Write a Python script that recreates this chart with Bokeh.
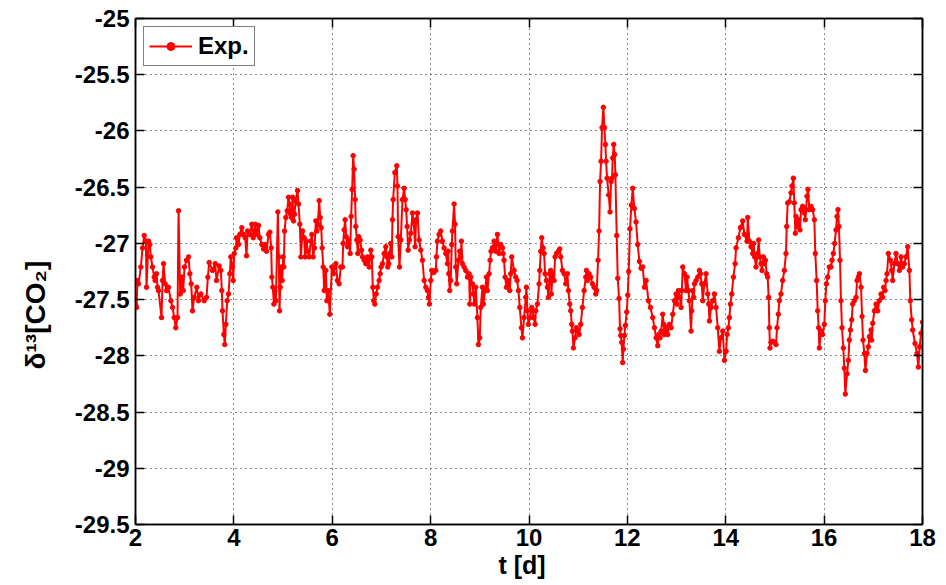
from bokeh.plotting import figure
from bokeh.models import LinearAxis, FixedTicker, Legend, LegendItem, Range1d, Title
from bokeh.embed import file_html
from bokeh.resources import INLINE

# ---- data (time in days, delta13C of CO2) ----
t_days = [
    2.005, 2.021, 2.041, 2.062, 2.109, 2.143, 2.177, 2.211, 2.224, 2.265, 2.292, 2.312, 2.346, 2.38, 2.40,
    2.428, 2.448, 2.468, 2.529, 2.55, 2.57, 2.604, 2.631, 2.671, 2.719, 2.753, 2.787, 2.82, 2.854, 2.875,
    2.909, 2.942, 2.97, 2.997, 3.037, 3.078, 3.105, 3.132, 3.159, 3.193, 3.247, 3.281, 3.329, 3.396, 3.444,
    3.471, 3.498, 3.566, 3.62, 3.647, 3.701, 3.735, 3.755, 3.769, 3.796, 3.816, 3.837, 3.864, 3.891, 3.918,
    3.938, 3.972,
    3.986, 4.007, 4.041, 4.054, 4.095, 4.122, 4.162, 4.196, 4.23, 4.257, 4.278, 4.325, 4.366, 4.393, 4.433,
    4.461, 4.501, 4.528, 4.569, 4.603, 4.637, 4.664, 4.704, 4.732, 4.759, 4.772, 4.793, 4.813, 4.833, 4.854,
    4.894, 4.914, 4.928, 4.942, 4.962, 4.982, 5.003, 5.016, 5.03, 5.057, 5.084, 5.111, 5.131, 5.152, 5.172,
    5.192, 5.213, 5.233, 5.253, 5.294, 5.314, 5.341, 5.362, 5.396, 5.429, 5.45, 5.477, 5.504, 5.531, 5.565,
    5.585, 5.612, 5.639, 5.667, 5.687, 5.707, 5.734, 5.755, 5.775, 5.795, 5.816, 5.836, 5.87, 5.89, 5.917,
    5.951, 5.992,
    6.025, 6.052, 6.073, 6.106, 6.14, 6.174, 6.208, 6.222, 6.242, 6.262, 6.283, 6.31, 6.337, 6.364, 6.384,
    6.404, 6.425, 6.445, 6.465, 6.479, 6.499, 6.52, 6.54, 6.567, 6.594, 6.615, 6.648, 6.682, 6.716, 6.75,
    6.784, 6.804, 6.825, 6.845, 6.865, 6.892, 6.919, 6.953, 6.974, 6.994, 7.021, 7.055, 7.089, 7.109, 7.129,
    7.15, 7.17, 7.19, 7.211, 7.224, 7.238, 7.272, 7.312, 7.326, 7.339, 7.367, 7.394, 7.428, 7.461, 7.482,
    7.502, 7.522, 7.543, 7.57, 7.597, 7.631, 7.658, 7.685, 7.705, 7.732, 7.766, 7.8, 7.834, 7.868, 7.902,
    7.936, 7.956, 7.976, 8.003,
    8.023, 8.064, 8.105, 8.118, 8.138, 8.172, 8.206, 8.24, 8.274, 8.308, 8.342, 8.355, 8.369, 8.389, 8.409,
    8.43, 8.443, 8.477, 8.497, 8.511, 8.531, 8.565, 8.592, 8.613, 8.626, 8.647, 8.68, 8.714, 8.748, 8.782,
    8.796, 8.816, 8.85, 8.87, 8.89, 8.918, 8.951, 8.972, 8.999, 9.019, 9.053, 9.073, 9.107, 9.134, 9.155,
    9.189, 9.209, 9.229, 9.256, 9.29, 9.324, 9.358, 9.392, 9.426, 9.46, 9.473, 9.493, 9.514, 9.541, 9.581,
    9.609, 9.629, 9.649, 9.697, 9.731, 9.758, 9.785, 9.812, 9.846, 9.866, 9.90, 9.934, 9.947, 9.968, 9.988,
    10.022, 10.056,
    10.07, 10.097, 10.124, 10.138, 10.171, 10.205, 10.219, 10.239, 10.259, 10.287, 10.307, 10.327, 10.354,
    10.375, 10.395, 10.422, 10.442, 10.456, 10.476, 10.51, 10.53, 10.558, 10.598, 10.625, 10.646, 10.68,
    10.713, 10.747, 10.781, 10.801, 10.829, 10.849, 10.869, 10.883, 10.903, 10.937, 10.964, 10.984, 11.018,
    11.052, 11.086, 11.12, 11.154, 11.167, 11.188, 11.222, 11.255, 11.289, 11.323, 11.357, 11.377, 11.404,
    11.425,
    11.445, 11.465, 11.485, 11.512, 11.533, 11.553, 11.567, 11.587, 11.621, 11.648, 11.668, 11.688, 11.702,
    11.722, 11.743, 11.756, 11.783, 11.804, 11.831, 11.851, 11.865, 11.885, 11.905, 11.919, 11.939, 11.959,
    11.987, 12.007, 12.027, 12.054, 12.081, 12.109, 12.142, 12.176, 12.21, 12.244, 12.278,
    12.313, 12.347, 12.381, 12.428, 12.469, 12.516, 12.55, 12.584, 12.618, 12.638, 12.665, 12.686, 12.719,
    12.74, 12.753, 12.787, 12.821, 12.855, 12.889, 12.923, 12.957, 12.99, 13.011, 13.038, 13.065, 13.092,
    13.106, 13.126, 13.16, 13.194, 13.214, 13.241, 13.261, 13.295, 13.309, 13.329, 13.349, 13.363, 13.397,
    13.431, 13.465, 13.485, 13.512, 13.532, 13.566, 13.60, 13.634, 13.654, 13.668, 13.702, 13.736, 13.77,
    13.803, 13.837, 13.871, 13.905, 13.939, 13.973, 14.007, 14.027, 14.054, 14.074, 14.095, 14.122, 14.156,
    14.19, 14.21, 14.257, 14.298, 14.345, 14.379, 14.433, 14.447, 14.481,
    14.514, 14.548, 14.568, 14.588, 14.615, 14.649, 14.669, 14.69, 14.717, 14.737, 14.764, 14.785, 14.805,
    14.832, 14.852, 14.873, 14.886, 14.90, 14.92, 14.954, 14.988, 15.022, 15.042, 15.069, 15.09, 15.123,
    15.157, 15.191, 15.225, 15.239, 15.259, 15.293, 15.327, 15.347, 15.374, 15.394, 15.415, 15.428, 15.449,
    15.482, 15.51, 15.53, 15.564, 15.598, 15.618, 15.632, 15.652, 15.672, 15.699, 15.733, 15.767, 15.801,
    15.821, 15.848, 15.869, 15.889, 15.903, 15.936, 15.97, 16.004, 16.024, 16.045, 16.072, 16.106, 16.14,
    16.16, 16.187, 16.214, 16.241, 16.262, 16.282, 16.302, 16.323, 16.343, 16.363, 16.39, 16.411, 16.431,
    16.466, 16.493, 16.513, 16.534, 16.561, 16.581, 16.615, 16.649, 16.669, 16.696, 16.717, 16.751, 16.771,
    16.791, 16.818, 16.839, 16.872, 16.90, 16.92, 16.954, 16.967, 16.988, 17.022, 17.055, 17.089, 17.123,
    17.157, 17.191, 17.211, 17.238, 17.259, 17.279, 17.306, 17.347, 17.374, 17.394, 17.428, 17.462, 17.496,
    17.53, 17.564, 17.597, 17.631, 17.665, 17.699, 17.733, 17.753, 17.78, 17.801, 17.848, 17.889, 17.916,
    17.943, 17.97, 18.0,
]

d13c = [
    -27.55, -27.57, -27.33, -27.36, -27.21, -27.04, -26.93, -26.98, -27.39, -26.98, -27.01, -27.12, -27.21, -27.30, -27.33,
    -27.27, -27.39, -27.42, -27.66, -27.33, -27.18, -27.36, -27.42, -27.39, -27.51, -27.57, -27.66, -27.75, -27.66, -26.71,
    -27.45, -27.30, -27.42, -27.21, -27.15, -27.12, -27.27, -27.36, -27.60, -27.48, -27.39, -27.51, -27.45, -27.51, -27.48,
    -27.30, -27.17, -27.24, -27.18, -27.33, -27.20, -27.24, -27.42, -27.60, -27.81, -27.90, -27.72, -27.51, -27.45, -27.27,
    -27.12, -27.21,
    -27.33, -27.09, -27.04, -26.95, -27.01, -26.92, -26.86, -26.92, -26.95, -27.11, -26.89, -26.92, -26.83, -26.95, -26.83,
    -26.92, -26.84, -26.95, -27.01, -27.05, -27.01, -27.07, -26.92, -26.90, -27.04, -27.30, -27.39, -27.54, -27.42, -27.51,
    -26.72, -27.12, -27.60, -27.39, -27.21, -27.33, -27.12, -27.21, -26.89, -26.77, -26.71, -26.59, -26.65, -26.74, -26.77,
    -26.59, -26.80, -26.74, -26.62, -26.53, -26.65, -26.83, -27.12, -26.89, -26.95, -27.12, -26.98, -27.07, -27.12, -26.98,
    -26.92, -27.12, -27.04, -26.80, -26.89, -26.83, -26.62, -26.77, -26.86, -27.04, -27.21, -27.42, -27.24, -27.51, -27.42,
    -27.63, -27.21,
    -27.27, -27.21, -27.18, -27.33, -27.36, -27.21, -27.21, -27.00, -26.88, -26.79, -26.94, -27.03, -26.97, -27.09, -26.76,
    -26.52, -26.22, -26.34, -26.61, -26.85, -26.97, -27.09, -26.94, -26.97, -27.06, -27.12, -27.15, -27.18, -27.12, -27.21,
    -27.06, -27.12, -27.39, -27.51, -27.54, -27.45, -27.39, -27.33, -27.27, -27.21, -27.18, -27.09, -27.03, -27.12, -27.21,
    -27.18, -27.09, -27.00, -27.12, -26.79, -26.61, -26.37, -26.31, -26.49, -26.94, -27.21, -26.97, -26.61, -26.51, -26.61,
    -26.70, -26.85, -27.06, -26.97, -26.91, -26.73, -26.82, -27.03, -26.79, -26.73, -26.97, -27.06, -27.15, -27.33, -27.39,
    -27.42, -27.48, -27.54, -27.33,
    -27.24, -27.26, -27.24, -27.12, -26.98, -26.92, -26.89, -26.98, -27.04, -27.09, -27.18, -27.07, -27.27, -27.42, -27.33,
    -27.01, -26.89, -26.65, -26.83, -27.21, -27.36, -27.15, -27.07, -27.12, -26.98, -27.18, -27.21, -27.24, -27.30, -27.27,
    -27.54, -27.30, -27.36, -27.45, -27.54, -27.39, -27.66, -27.90, -27.84, -27.57, -27.39, -27.54, -27.42, -27.30, -27.42,
    -27.27, -27.15, -27.07, -27.04, -26.98, -27.07, -26.92, -27.09, -27.01, -27.04, -27.09, -27.15, -27.30, -27.39, -27.33,
    -27.42, -27.27, -27.12, -27.24, -27.30, -27.33, -27.42, -27.57, -27.75, -27.84, -27.66, -27.48, -27.39, -27.60, -27.72,
    -27.66, -27.57,
    -27.60, -27.66, -27.72, -27.60, -27.54, -27.36, -27.24, -27.07, -26.95, -27.04, -27.09, -27.27, -27.33,
    -27.39, -27.48, -27.27, -27.24, -27.45, -27.27, -27.33, -27.12, -27.09, -27.07, -27.05, -27.12, -27.24,
    -27.27, -27.36, -27.27, -27.42, -27.54, -27.60, -27.72, -27.78, -27.93, -27.84, -27.75, -27.78, -27.81,
    -27.72, -27.57, -27.42, -27.30, -27.24, -27.33, -27.27, -27.30, -27.36, -27.39, -27.45, -27.42, -27.15,
    -26.89,
    -26.45, -26.27, -25.97, -25.79, -25.97, -26.12, -26.27, -26.42, -26.57, -26.72, -26.45, -26.42, -26.24,
    -26.12, -26.21, -26.39, -26.93, -27.31, -27.49, -27.76, -27.82, -27.88, -28.06, -27.94, -27.82, -27.73,
    -27.61, -27.46, -27.25, -26.87, -26.66, -26.51, -26.69, -26.81, -27.01, -27.16, -27.22,
    -27.21, -27.39, -27.33, -27.51, -27.57, -27.66, -27.75, -27.84, -27.91, -27.81, -27.84, -27.78, -27.63,
    -27.72, -27.81, -27.75, -27.81, -27.72, -27.75, -27.63, -27.51, -27.45, -27.54, -27.42, -27.48, -27.57,
    -27.42, -27.21, -27.27, -27.42, -27.30, -27.42, -27.51, -27.78, -27.60, -27.42, -27.48, -27.36, -27.33,
    -27.30, -27.24, -27.27, -27.36, -27.51, -27.36, -27.27, -27.45, -27.54, -27.69, -27.57, -27.51, -27.45,
    -27.57, -27.75, -27.96, -27.84, -27.78, -28.04, -27.96, -27.81, -27.75, -27.66, -27.54, -27.45, -27.30,
    -27.18, -27.04, -26.95, -26.86, -26.80, -26.92, -26.98, -26.77, -26.98,
    -27.03, -27.09, -27.00, -27.12, -27.21, -27.09, -26.97, -27.12, -27.18, -27.24, -27.12, -27.18, -27.15,
    -27.27, -27.30, -27.48, -27.75, -27.93, -27.88, -27.87, -27.88, -27.90, -27.75, -27.63, -27.51, -27.45,
    -27.33, -27.24, -27.09, -26.85, -26.64, -26.63, -26.55, -26.49, -26.42, -26.64, -26.91, -26.76, -26.85,
    -26.79, -26.88, -26.70, -26.67, -26.73, -26.79, -26.70, -26.58, -26.52, -26.70, -26.67, -26.70, -26.79,
    -27.09, -27.33, -27.60, -27.75, -27.93, -27.78, -27.81, -27.72, -27.51, -27.36, -27.30, -27.21, -27.21,
    -27.15, -27.09, -27.00, -26.88, -26.76, -26.70, -26.85, -27.15, -27.51, -27.75, -27.93, -28.11, -28.34,
    -28.16, -28.04, -27.86, -27.77, -27.68, -27.54, -27.51, -27.48, -27.33, -27.30, -27.27, -27.39, -27.65,
    -27.86, -27.98, -28.13, -27.98, -27.92, -27.83, -27.77, -27.86, -27.71, -27.60, -27.54, -27.60, -27.51,
    -27.45, -27.48, -27.39, -27.42, -27.33, -27.27, -27.09, -27.15, -27.24, -27.33, -27.18, -27.09, -27.18,
    -27.24, -27.12, -27.21, -27.18, -27.12, -27.03, -27.24, -27.51, -27.68, -27.77, -27.89, -27.98, -28.10,
    -27.92, -27.80, -27.70,
]

x_ticks = [2, 4, 6, 8, 10, 12, 14, 16, 18]
x_tick_labels = ["2", "4", "6", "8", "10", "12", "14", "16", "18"]
y_ticks = [-29.5, -29.0, -28.5, -28.0, -27.5, -27.0, -26.5, -26.0, -25.5, -25.0]
y_tick_labels = ["-29.5", "-29", "-28.5", "-28", "-27.5", "-27", "-26.5", "-26", "-25.5", "-25"]
series_name = "Exp."
x_title = "t [d]"
y_title = "δ¹³[CO₂]"

FONT = "Liberation Sans"
RED = "#FF0000"

p = figure(width=946, height=585, x_range=Range1d(2, 18), y_range=Range1d(-29.5, -25),
           output_backend="svg", toolbar_location=None,
           min_border_left=134, min_border_right=24, min_border_top=18, min_border_bottom=61)
p.background_fill_color = "white"
p.border_fill_color = "white"
p.outline_line_color = "black"
p.outline_line_width = 1.5

line_r = p.line(t_days, d13c, line_color=RED, line_width=2)
dot_r = p.scatter(t_days, d13c, marker="circle", size=4.5, fill_color=RED, line_color=RED)

def style_axis(ax, ticks, labels, show_labels=True):
    ax.ticker = FixedTicker(ticks=ticks)
    ax.major_label_overrides = {tk: lb for tk, lb in zip(ticks, labels)}
    ax.major_tick_in = 9
    ax.major_tick_out = 0
    ax.minor_tick_line_color = None
    ax.major_tick_line_color = "black"
    ax.major_tick_line_width = 1.5
    ax.axis_line_color = "black"
    ax.axis_line_width = 1.5
    ax.major_label_text_font = FONT
    ax.major_label_text_font_style = "bold"
    if show_labels:
        ax.major_label_text_color = "black"
        ax.major_label_text_font_size = "24px"
    else:
        ax.major_label_text_color = None
        ax.major_label_text_font_size = "1px"
        ax.major_label_standoff = 0

xa = p.xaxis[0]
ya = p.yaxis[0]
style_axis(xa, x_ticks, x_tick_labels)
style_axis(ya, y_ticks, y_tick_labels)
xa.major_label_standoff = 4
ya.major_label_standoff = 6

top_ax = LinearAxis()
right_ax = LinearAxis()
style_axis(top_ax, x_ticks, x_tick_labels, show_labels=False)
style_axis(right_ax, y_ticks, y_tick_labels, show_labels=False)
p.add_layout(top_ax, "above")
p.add_layout(right_ax, "right")

for g, tk in ((p.xgrid[0], x_ticks), (p.ygrid[0], y_ticks)):
    g.ticker = FixedTicker(ticks=tk)
    g.grid_line_color = "black"
    g.grid_line_width = 1
    g.grid_line_dash = "1 4"
    g.grid_line_alpha = 0.9

# axis titles as side-panel titles so they can sit off-centre like the reference
x_t = Title(text=x_title, align="left", offset=363, vertical_align="bottom", standoff=0,
            text_font=FONT, text_font_size="25px", text_font_style="bold", text_color="black")
p.add_layout(x_t, "below")
y_t = Title(text=y_title, align="left", offset=155, vertical_align="top", standoff=38,
            text_font=FONT, text_font_size="28px", text_font_style="bold", text_color="black")
p.add_layout(y_t, "left")

legend = Legend(items=[LegendItem(label=series_name, renderers=[line_r, dot_r])],
                location="top_left")
legend.border_line_color = "black"
legend.border_line_width = 1
legend.background_fill_color = "white"
legend.background_fill_alpha = 1
legend.label_text_font = FONT
legend.label_text_font_style = "bold"
legend.label_text_font_size = "24px"
legend.label_text_color = "black"
legend.glyph_width = 43
legend.glyph_height = 20
legend.label_height = 20
legend.label_standoff = 6
legend.padding = 5
legend.margin = 8
legend.spacing = 0
p.add_layout(legend)

open("out.html", "w").write(file_html(p, INLINE))
